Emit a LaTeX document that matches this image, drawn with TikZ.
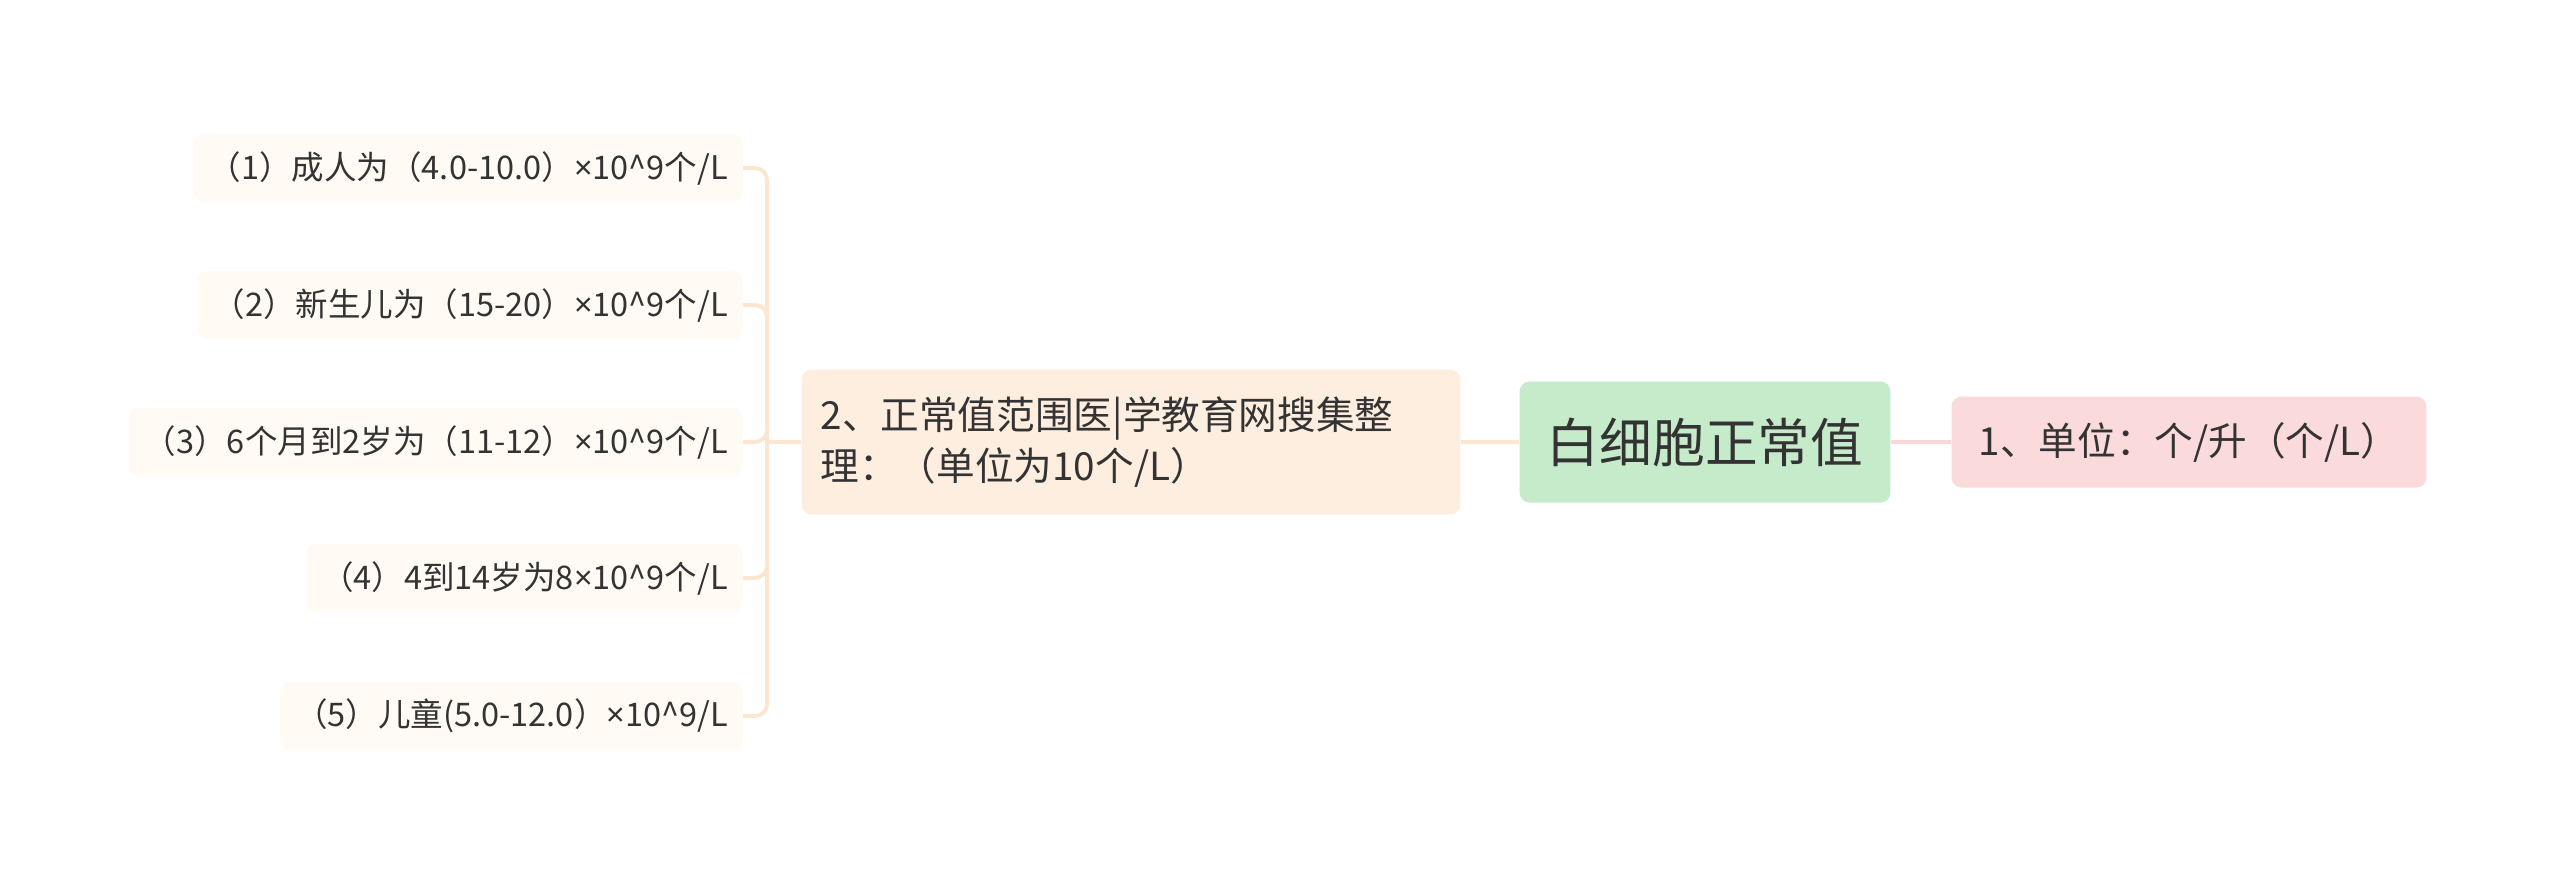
\documentclass[tikz,border=0pt]{standalone}
\usepackage{fontspec}
\setmainfont{Noto Sans CJK SC}
\newfontfamily\latinfont{Noto Sans}
\newcommand{\por}{{\latinfont ×}}
\definecolor{texto}{HTML}{333333}
\definecolor{verde}{HTML}{C6EBCA}
\definecolor{rosa}{HTML}{FBDADB}
\definecolor{naranja}{HTML}{FEEEDF}
\definecolor{hoja}{HTML}{FFFAF4}
\definecolor{lineaN}{HTML}{FDE6D0}
\definecolor{lineaR}{HTML}{F9D6D7}

\begin{document}
\begin{tikzpicture}[x=0.02cm, y=-0.02cm,
    caja/.style={rounded corners=0.2cm, text=texto, inner ysep=0pt},
    raiz/.style={caja, fill=verde, minimum width=7.42cm, minimum height=2.42cm,
      font=\fontsize{30pt}{36pt}\selectfont},
    rama/.style={caja, fill=rosa, minimum width=9.5cm, minimum height=1.82cm,
      font=\fontsize{22pt}{29pt}\selectfont},
    ramaN/.style={caja, fill=naranja, minimum height=2.9cm, inner xsep=0.38cm,
      text width=12.42cm, align=left, font=\fontsize{22pt}{29pt}\selectfont},
    hoja/.style={caja, fill=hoja, anchor=east, minimum height=1.36cm, inner xsep=0.3cm,
      font=\fontsize{18.5pt}{22pt}\selectfont},
    enlace/.style={line width=2.2pt, rounded corners=0.24cm}]

    % Fondo
    \fill[white] (0, 0) rectangle (2560, 887);

    % Nodos principales
    \node[raiz] (centro) at (1705, 442) {白细胞正常值};
    \node[rama] (unidad) at (2189, 442) {1、单位：个/升（个/L）};
    \node[ramaN] (rango) at (1131, 442) {2、正常值范围医|学教育网搜集整\\理：（单位为10个/L）};

    % Hojas
    \node[hoja] (h1) at (743, 168) {（1）成人为（4.0-10.0）\por10\textasciicircum 9个/L};
    \node[hoja] (h2) at (743, 305) {（2）新生儿为（15-20）\por10\textasciicircum 9个/L};
    \node[hoja] (h3) at (743, 442) {（3）6个月到2岁为（11-12）\por10\textasciicircum 9个/L};
    \node[hoja] (h4) at (743, 578) {（4）4到14岁为8\por10\textasciicircum 9个/L};
    \node[hoja] (h5) at (743, 716) {（5）儿童(5.0-12.0）\por10\textasciicircum 9/L};

    % Conexiones
    \coordinate (tronco) at (767, 442);
    \draw[enlace, lineaR] (centro) -- (unidad);
    \draw[enlace, lineaN] (centro) -- (rango);
    \draw[enlace, lineaN] (rango) -- (tronco);
    \draw[enlace, lineaN] (tronco) |- (h1);
    \draw[enlace, lineaN] (tronco) |- (h2);
    \draw[enlace, lineaN] (tronco) |- (h3);
    \draw[enlace, lineaN] (tronco) |- (h4);
    \draw[enlace, lineaN] (tronco) |- (h5);
  \end{tikzpicture}
\end{document}
